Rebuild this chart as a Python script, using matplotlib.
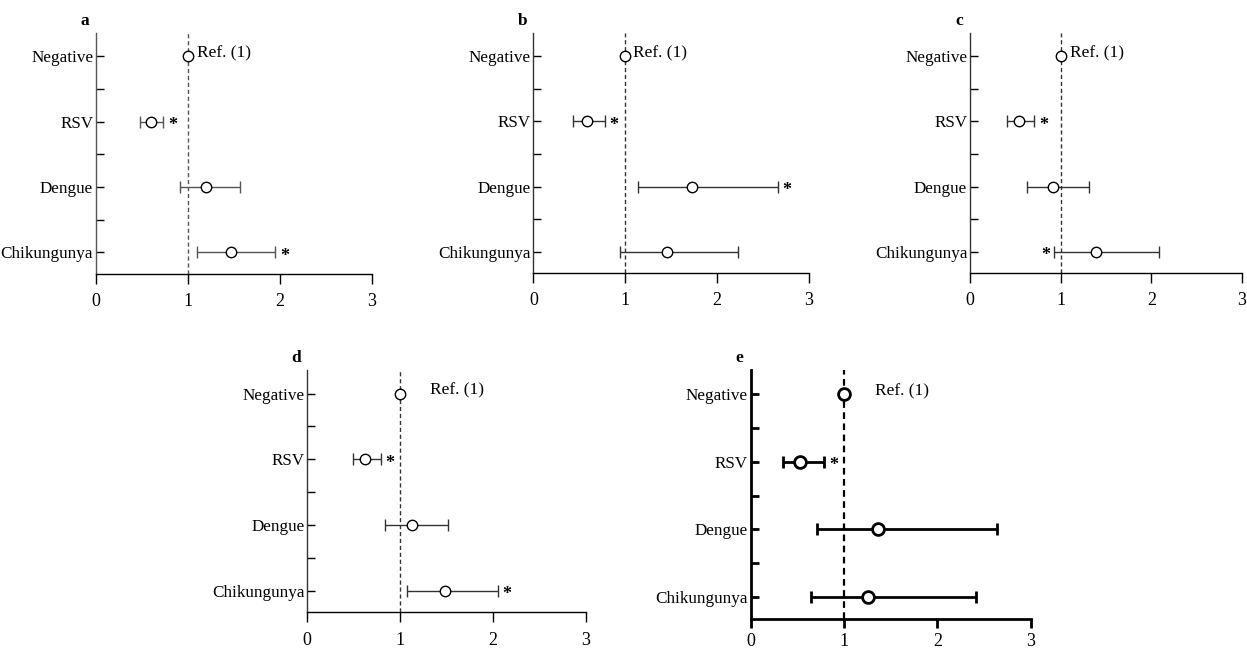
import matplotlib
matplotlib.use('Agg')
from matplotlib import pyplot as plt
from matplotlib.ticker import FixedLocator

plt.rcParams['font.family'] = ['Liberation Serif', 'DejaVu Serif']

# categories, top to bottom
categories = ['Negative', 'RSV', 'Dengue', 'Chikungunya']

# odds ratios and 95% CI for each panel (Negative is the reference)
or_a = [1.0, 0.60, 1.20, 1.47]
lo_a = [1.0, 0.48, 0.91, 1.10]
hi_a = [1.0, 0.73, 1.57, 1.95]

or_b = [1.0, 0.58, 1.73, 1.45]
lo_b = [1.0, 0.43, 1.14, 0.94]
hi_b = [1.0, 0.78, 2.66, 2.23]

or_c = [1.0, 0.54, 0.92, 1.39]
lo_c = [1.0, 0.41, 0.63, 0.93]
hi_c = [1.0, 0.71, 1.31, 2.08]

or_d = [1.0, 0.62, 1.13, 1.48]
lo_d = [1.0, 0.49, 0.84, 1.07]
hi_d = [1.0, 0.79, 1.52, 2.05]

or_e = [1.0, 0.53, 1.36, 1.26]
lo_e = [1.0, 0.35, 0.71, 0.65]
hi_e = [1.0, 0.79, 2.64, 2.41]

# significant rows: row index -> side of the CI where the star sits
stars_a = {1: 'r', 3: 'r'}
stars_b = {1: 'r', 2: 'r'}
stars_c = {1: 'r', 3: 'l'}
stars_d = {1: 'r', 3: 'r'}
stars_e = {1: 'r'}

xticks = [0, 1, 2, 3]

fig = plt.figure(figsize=(12.47, 6.53), dpi=100)


def forest(rect, letter, ors, los, his, stars, ref_x, color, lw, bold=False):
    ax = fig.add_axes(rect)
    rows = list(range(len(categories)))
    ax.axvline(1, color=color, lw=1.0 if not bold else 1.6, ls=(0, (3, 2)), zorder=1)
    xerr = [[o - l for o, l in zip(ors, los)], [h - o for o, h in zip(ors, his)]]
    ax.errorbar(ors, rows, xerr=xerr, fmt='o', mfc='white', mec='black',
                ms=8.5 if bold else 7.5, mew=2.0 if bold else 1.0,
                ecolor=color, elinewidth=lw, capsize=4.5, capthick=lw, zorder=3)
    for r, side in stars.items():
        x = his[r] + 0.1 if side == 'r' else los[r] - 0.1
        ax.text(x, rows[r] + 0.06, '*', ha='center', va='center', fontsize=13,
                fontweight='bold')
    ax.text(ref_x, rows[0] - 0.05, 'Ref. (1)', ha='left', va='center', fontsize=12.5)
    ax.set_xlim(0, 3)
    ax.set_ylim(3.33, -0.36)
    ax.set_xticks(xticks)
    ax.set_xticklabels([str(t) for t in xticks], fontsize=13)
    ax.set_yticks(rows)
    ax.set_yticklabels(categories, fontsize=12.3)
    ax.yaxis.set_minor_locator(FixedLocator([0.5, 1.5, 2.5]))
    sw = 2.0 if bold else 1.0
    ax.tick_params(axis='x', direction='out', length=7.5 if not bold else 6.5, width=sw,
                   pad=6.5 if not bold else 3.5, colors='black')
    ax.tick_params(axis='y', which='both', direction='in', length=6, width=sw, pad=2)
    for s in ['top', 'right']:
        ax.spines[s].set_visible(False)
    ax.spines['left'].set_color(color)
    ax.spines['left'].set_linewidth(sw)
    ax.spines['bottom'].set_linewidth(sw)
    ax.text(-0.04, 1.05, letter, transform=ax.transAxes, ha='center', va='center',
            fontsize=12.5, fontweight='bold')
    return ax


forest([0.0770, 0.5804, 0.2213, 0.3691], 'a', or_a, lo_a, hi_a, stars_a, 1.1, '#555555', 1.0)
forest([0.4277, 0.5819, 0.2211, 0.3675], 'b', or_b, lo_b, hi_b, stars_b, 1.08, '#333333', 1.0)
forest([0.7779, 0.5819, 0.2181, 0.3675], 'c', or_c, lo_c, hi_c, stars_c, 1.1, '#333333', 1.0)
forest([0.2464, 0.0623, 0.2233, 0.3711], 'd', or_d, lo_d, hi_d, stars_d, 1.32, '#333333', 1.0)
forest([0.6020, 0.0516, 0.2245, 0.3818], 'e', or_e, lo_e, hi_e, stars_e, 1.33, 'black', 2.0, bold=True)

plt.savefig('out.png', dpi=100)
